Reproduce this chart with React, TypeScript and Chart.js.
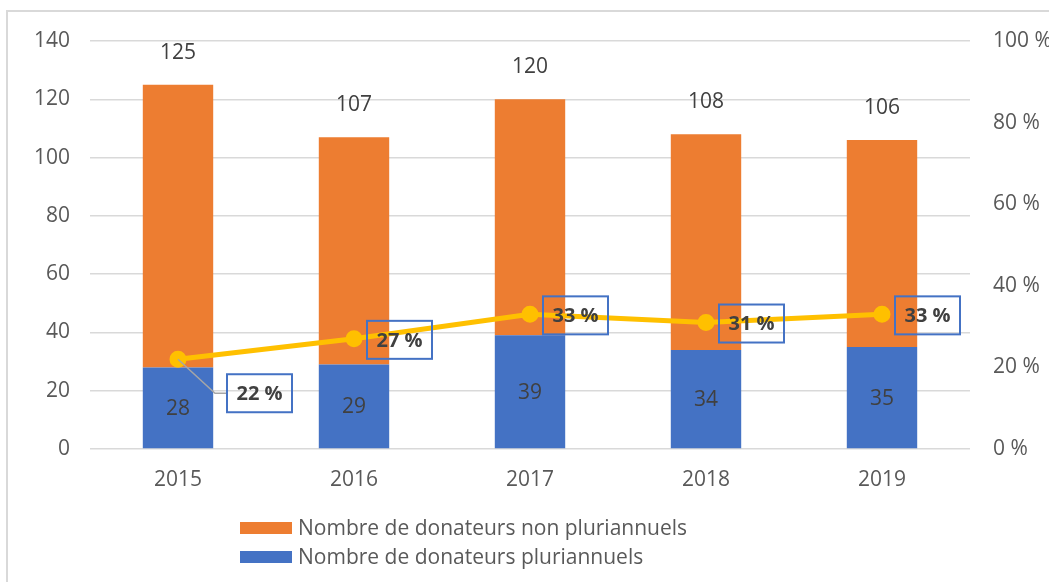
import React, { useEffect, useRef } from "react";
import { Chart, registerables } from "chart.js";

Chart.register(...registerables);

const categories = ["2015", "2016", "2017", "2018", "2019"];
const pluriannuels = [28, 29, 39, 34, 35];
const nonPluriannuels = [97, 78, 81, 74, 71];
const pourcentages = [22, 27, 33, 31, 33];
const leftTicks = [0, 20, 40, 60, 80, 100, 120, 140];
const rightTicks = [0, 20, 40, 60, 80, 100];

const labelNon = "Nombre de donateurs non pluriannuels";
const labelPluri = "Nombre de donateurs pluriannuels";

const ORANGE = "#ED7D31";
const BLUE = "#4472C4";
const YELLOW = "#FFC000";
const FONT = "'Open Sans', Lato, sans-serif";

const overlayPlugin = {
  id: "overlay",
  afterDatasetsDraw(chart: any) {
    const ctx = chart.ctx;
    const lineMeta = chart.getDatasetMeta(0);
    const pluriMeta = chart.getDatasetMeta(1);
    const nonMeta = chart.getDatasetMeta(2);
    ctx.save();
    ctx.font = `21px ${FONT}`;
    ctx.fillStyle = "#404040";
    ctx.textAlign = "center";
    ctx.textBaseline = "middle";
    pluriMeta.data.forEach((bar: any, i: number) => {
      const cy = (bar.y + bar.base) / 2;
      ctx.fillText(String(pluriannuels[i]), bar.x, cy + 1);
    });
    nonMeta.data.forEach((bar: any, i: number) => {
      const total = pluriannuels[i] + nonPluriannuels[i];
      ctx.fillText(String(total), bar.x, bar.y - 32);
    });
    ctx.font = `bold 20px ${FONT}`;
    lineMeta.data.forEach((pt: any, i: number) => {
      const w = 65;
      const h = 38;
      let left = pt.x + 13;
      let cy = pt.y + 1;
      if (i === 0) {
        left = pt.x + 49;
        cy = pt.y + 34;
        ctx.strokeStyle = "#A6A6A6";
        ctx.lineWidth = 1.5;
        ctx.beginPath();
        ctx.moveTo(pt.x, pt.y);
        ctx.lineTo(pt.x + 37, cy);
        ctx.lineTo(left, cy);
        ctx.stroke();
      }
      ctx.strokeStyle = BLUE;
      ctx.lineWidth = 2;
      ctx.strokeRect(left, cy - h / 2, w, h);
      ctx.fillStyle = "#404040";
      ctx.fillText(`${pourcentages[i]} %`, left + w / 2, cy + 1);
    });
    ctx.restore();
  },
  afterDraw(chart: any) {
    const ctx = chart.ctx;
    ctx.save();
    ctx.strokeStyle = "#D9D9D9";
    ctx.lineWidth = 2;
    ctx.beginPath();
    ctx.moveTo(7, 582);
    ctx.lineTo(7, 11);
    ctx.lineTo(1049, 11);
    ctx.stroke();
    const items = [
      { text: labelNon, color: ORANGE, y: 528 },
      { text: labelPluri, color: BLUE, y: 557 },
    ];
    ctx.font = `21px ${FONT}`;
    ctx.textAlign = "left";
    ctx.textBaseline = "middle";
    items.forEach((it) => {
      ctx.fillStyle = it.color;
      ctx.fillRect(240, it.y - 6, 52, 12);
      ctx.fillStyle = "#595959";
      ctx.fillText(it.text, 298, it.y + 1);
    });
    ctx.restore();
  },
};

export default function App() {
  const ref = useRef<HTMLCanvasElement>(null);
  useEffect(() => {
    if (!ref.current) return;
    const chart = new Chart(ref.current, {
      type: "bar",
      data: {
        labels: categories,
        datasets: [
          {
            type: "line",
            label: "Part",
            data: pourcentages,
            yAxisID: "y1",
            borderColor: YELLOW,
            backgroundColor: YELLOW,
            borderWidth: 5,
            pointRadius: 6,
            pointBackgroundColor: YELLOW,
            pointBorderColor: YELLOW,
            tension: 0,
            order: 0,
          } as any,
          {
            type: "bar",
            label: labelPluri,
            data: pluriannuels,
            backgroundColor: BLUE,
            yAxisID: "y",
            barPercentage: 0.4,
            categoryPercentage: 1,
            order: 1,
          },
          {
            type: "bar",
            label: labelNon,
            data: nonPluriannuels,
            backgroundColor: ORANGE,
            yAxisID: "y",
            barPercentage: 0.4,
            categoryPercentage: 1,
            order: 1,
          },
        ],
      },
      options: {
        animation: false,
        responsive: true,
        maintainAspectRatio: false,
        layout: { padding: { top: 41, left: 0, right: 0, bottom: 0 } },
        plugins: {
          legend: { display: false },
          tooltip: { enabled: false },
        },
        scales: {
          x: {
            stacked: true,
            grid: { display: false },
            border: { display: false },
            ticks: {
              color: "#595959",
              font: { family: FONT, size: 21 },
              padding: 10,
            },
            afterFit: (s: any) => {
              s.height = 133;
            },
          },
          y: {
            stacked: true,
            position: "left",
            min: 0,
            max: 140,
            afterBuildTicks: (s: any) => {
              s.ticks = leftTicks.map((v) => ({ value: v }));
            },
            grid: { color: "#D9D9D9", lineWidth: 1.5, drawTicks: false },
            border: { display: false },
            ticks: {
              color: "#595959",
              font: { family: FONT, size: 21 },
              padding: 20,
            },
            afterFit: (s: any) => {
              s.width = 90;
            },
          },
          y1: {
            position: "right",
            min: 0,
            max: 100,
            afterBuildTicks: (s: any) => {
              s.ticks = rightTicks.map((v) => ({ value: v }));
            },
            grid: { drawOnChartArea: false, drawTicks: false },
            border: { display: false },
            ticks: {
              color: "#595959",
              font: { family: FONT, size: 21 },
              padding: 23,
              callback: (v: any) => `${v} %`,
            },
            afterFit: (s: any) => {
              s.width = 79;
            },
          },
        },
      },
      plugins: [overlayPlugin],
    });
    return () => chart.destroy();
  }, []);
  return (
    <div style={{ position: "fixed", left: 0, top: 0, width: 1049, height: 582, background: "#fff" }}>
      <canvas ref={ref} />
    </div>
  );
}
